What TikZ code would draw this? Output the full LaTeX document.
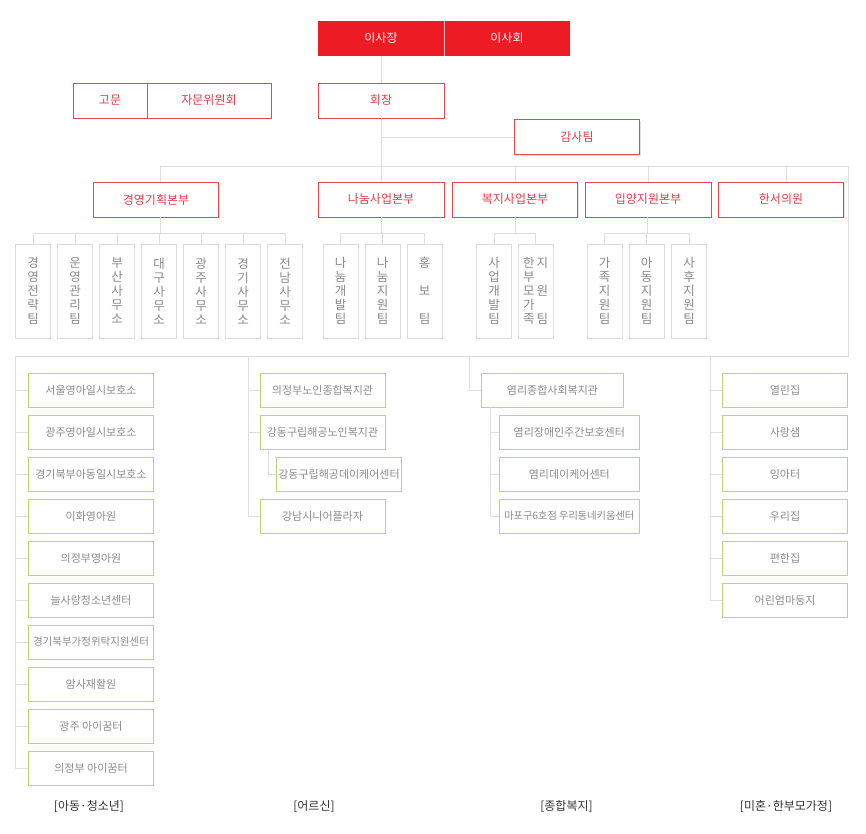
\documentclass[tikz,border=0pt]{standalone}
\usepackage{fontspec}
\setmainfont{Noto Sans CJK KR}
\usetikzlibrary{shadows}
\definecolor{redfill}{HTML}{ED1C24}
\definecolor{redline}{HTML}{E04A52}
\definecolor{redtext}{HTML}{E0404A}
\definecolor{lineg}{HTML}{DEDEDE}
\definecolor{boxg}{HTML}{DCDCDC}
\definecolor{textg}{HTML}{8A8A8A}
\definecolor{greenl}{HTML}{BDD673}
\definecolor{labelc}{HTML}{333333}
\begin{document}
\begin{tikzpicture}[x=1pt,y=-1pt,
  conn/.style={draw=lineg, line width=0.9pt},
  topbox/.style={fill=redfill, draw=none, text=white, minimum width=126pt, minimum height=35pt, font=\fontsize{12}{14}\selectfont, inner sep=0pt},
  redbox/.style={draw=redline, line width=0.9pt, fill=white, text=redtext, minimum height=35pt, font=\fontsize{12}{14}\selectfont, inner sep=0pt, drop shadow={shadow xshift=1pt, shadow yshift=-1.2pt, opacity=0.12, fill=black}},
  teambox/.style={draw=boxg, line width=0.8pt, text=textg, minimum width=35pt, minimum height=94pt, font=\fontsize{12.5}{14}\selectfont, inner sep=0pt, align=center},
  greenbox/.style={draw=greenl, line width=0.9pt, text=textg, minimum width=125pt, minimum height=34pt, font=\fontsize{11}{13}\selectfont, inner sep=0pt},
  grouplabel/.style={text=labelc, font=\fontsize{12}{14}\selectfont, inner sep=0pt}]
\useasboundingbox (0,0) rectangle (866,833);

% top
\node[topbox] (isajang) at (381,38.5) {이사장};
\node[topbox] (isahoe) at (507,38.5) {이사회};
\draw[white!70!redfill, line width=0.8pt] (isajang.north east) -- (isajang.south east);

\node[redbox, minimum width=74pt] (gomun) at (110,100.5) {고문};
\node[redbox, minimum width=124pt] (jamun) at (209,100.5) {자문위원회};
\node[redbox, minimum width=126pt] (hoejang) at (381,100.5) {회장};
\node[redbox, minimum width=125pt] (gamsa) at (577,137) {감사팀};

% divisions
\node[redbox, minimum width=125pt] (d1) at (156,199.5) {경영기획본부};
\node[redbox, minimum width=126pt] (d2) at (381,199.5) {나눔사업본부};
\node[redbox, minimum width=125pt] (d3) at (515,199.5) {복지사업본부};
\node[redbox, minimum width=126pt] (d4) at (648,199.5) {입양지원본부};
\node[redbox, minimum width=125pt] (d5) at (781,199.5) {한서의원};

% teams
\node[teambox] (t11) at (33,291) {경\\영\\전\\략\\팀};
\node[teambox] (t12) at (75,291) {운\\영\\관\\리\\팀};
\node[teambox] (t13) at (117,291) {부\\산\\사\\무\\소};
\node[teambox] (t14) at (159,291) {대\\구\\사\\무\\소};
\node[teambox] (t15) at (201,291) {광\\주\\사\\무\\소};
\node[teambox] (t16) at (243,291) {경\\기\\사\\무\\소};
\node[teambox] (t17) at (285,291) {전\\남\\사\\무\\소};

\node[teambox] (t21) at (340.5,291) {나\\눔\\개\\발\\팀};
\node[teambox] (t22) at (382.5,291) {나\\눔\\지\\원\\팀};
\node[teambox] (t23) at (424.5,291) {홍\\\phantom{홍}\\보\\\phantom{홍}\\팀};

\node[teambox] (t31) at (494,291) {사\\업\\개\\발\\팀};
\node[teambox, align=left] (t32) at (535.5,291) {한\hspace{2pt}지\\부\\모\hspace{2pt}원\\가\\족\hspace{2pt}팀};

\node[teambox] (t41) at (604.5,291) {가\\족\\지\\원\\팀};
\node[teambox] (t42) at (646.5,291) {아\\동\\지\\원\\팀};
\node[teambox] (t43) at (689,291) {사\\후\\지\\원\\팀};

% green group 1
\node[greenbox] (a1) at (91,390) {서울영아일시보호소};
\node[greenbox] (a2) at (91,432) {광주영아일시보호소};
\node[greenbox] (a3) at (91,474) {경기북부아동일시보호소};
\node[greenbox] (a4) at (91,516) {이화영아원};
\node[greenbox] (a5) at (91,558) {의정부영아원};
\node[greenbox] (a6) at (91,600) {늘사랑청소년센터};
\node[greenbox, font=\fontsize{10.5}{12}\selectfont] (a7) at (91,642) {경기북부가정위탁지원센터};
\node[greenbox] (a8) at (91,684) {암사재활원};
\node[greenbox] (a9) at (91,726) {광주 아이꿈터};
\node[greenbox] (a10) at (91,768) {의정부 아이꿈터};

% green group 2
\node[greenbox] (b1) at (322.5,390) {의정부노인종합복지관};
\node[greenbox] (b2) at (322.5,432) {강동구립해공노인복지관};
\node[greenbox] (b3) at (339,474) {강동구립해공데이케어센터};
\node[greenbox] (b4) at (322.5,516) {강남시니어플라자};

% green group 3
\node[greenbox, minimum width=142pt] (c1) at (552.5,390) {염리종합사회복지관};
\node[greenbox, minimum width=140pt] (c2) at (569.3,432) {염리장애인주간보호센터};
\node[greenbox, minimum width=140pt] (c3) at (569.3,474) {염리데이케어센터};
\node[greenbox, minimum width=140pt, font=\fontsize{10.2}{12}\selectfont] (c4) at (569.3,516) {마포구6호점 우리동네키움센터};

% green group 4
\node[greenbox] (e1) at (785,390) {열린집};
\node[greenbox] (e2) at (785,432) {사랑샘};
\node[greenbox] (e3) at (785,474) {잉아터};
\node[greenbox] (e4) at (785,516) {우리집};
\node[greenbox] (e5) at (785,558) {편한집};
\node[greenbox] (e6) at (785,600) {어린엄마둥지};

% labels
\node[grouplabel] (l1) at (89,806.5) {[아동·청소년]};
\node[grouplabel] (l2) at (314,806.5) {[어르신]};
\node[grouplabel] (l3) at (566.5,806.5) {[종합복지]};
\node[grouplabel] (l4) at (786,806.5) {[미혼·한부모가정]};

% coordinates
\coordinate (barL) at (160,166);
\coordinate (barR) at (848,166);
\coordinate (botR) at (848,356);
\coordinate (botL) at (15,356);
\coordinate (d5x) at (786,166);
\coordinate (t1bar) at (160,233);
\coordinate (t2bar) at (381,233);
\coordinate (t3bar) at (515,233);
\coordinate (t4bar) at (647,233);
\coordinate (g2) at (248,356);
\coordinate (g2s) at (268,356);
\coordinate (g3) at (469,356);
\coordinate (g3s) at (490,356);
\coordinate (g4) at (710,356);

% top connectors
\draw[conn] (isajang.south) -- (hoejang.north);
\draw[conn] (hoejang.south) -- (d2.north);
\draw[conn] (hoejang.south |- gamsa.west) -- (gamsa.west);
\draw[conn] (barL) -- (barR) -- (botR) -- (botL);
\draw[conn] (barL) -- (d1.north -| barL);
\draw[conn] (d3.north |- barR) -- (d3.north);
\draw[conn] (d4.north |- barR) -- (d4.north);
\draw[conn] (d5x) -- (d5.north -| d5x);

% team connectors
\draw[conn] (d1.south -| t1bar) -- (t1bar);
\draw[conn] (t11.north |- t1bar) -- (t17.north |- t1bar);
\foreach \t in {t11,t12,t13,t14,t15,t16,t17} {\draw[conn] (\t.north |- t1bar) -- (\t.north);}
\draw[conn] (d2.south) -- (t2bar);
\draw[conn] (t21.north |- t2bar) -- (t23.north |- t2bar);
\foreach \t in {t21,t22,t23} {\draw[conn] (\t.north |- t2bar) -- (\t.north);}
\draw[conn] (d3.south) -- (t3bar);
\draw[conn] (t31.north |- t3bar) -- (t32.north |- t3bar);
\foreach \t in {t31,t32} {\draw[conn] (\t.north |- t3bar) -- (\t.north);}
\draw[conn] (d4.south -| t4bar) -- (t4bar);
\draw[conn] (t41.north |- t4bar) -- (t43.north |- t4bar);
\foreach \t in {t41,t42,t43} {\draw[conn] (\t.north |- t4bar) -- (\t.north);}

% group connectors
\draw[conn] (botL) -- (botL |- a10.west);
\foreach \t in {a1,a2,a3,a4,a5,a6,a7,a8,a9,a10} {\draw[conn] (botL |- \t.west) -- (\t.west);}
\draw[conn] (g2) -- (g2 |- b4.west);
\foreach \t in {b1,b2,b4} {\draw[conn] (g2 |- \t.west) -- (\t.west);}
\draw[conn] (b2.south -| g2s) -- (g2s |- b3.west) -- (b3.west);
\draw[conn] (g3) -- (g3 |- c1.west) -- (c1.west);
\draw[conn] (c1.south -| g3s) -- (g3s |- c4.west);
\foreach \t in {c2,c3,c4} {\draw[conn] (g3s |- \t.west) -- (\t.west);}
\draw[conn] (g4) -- (g4 |- e6.west);
\foreach \t in {e1,e2,e3,e4,e5,e6} {\draw[conn] (g4 |- \t.west) -- (\t.west);}
\end{tikzpicture}
\end{document}
